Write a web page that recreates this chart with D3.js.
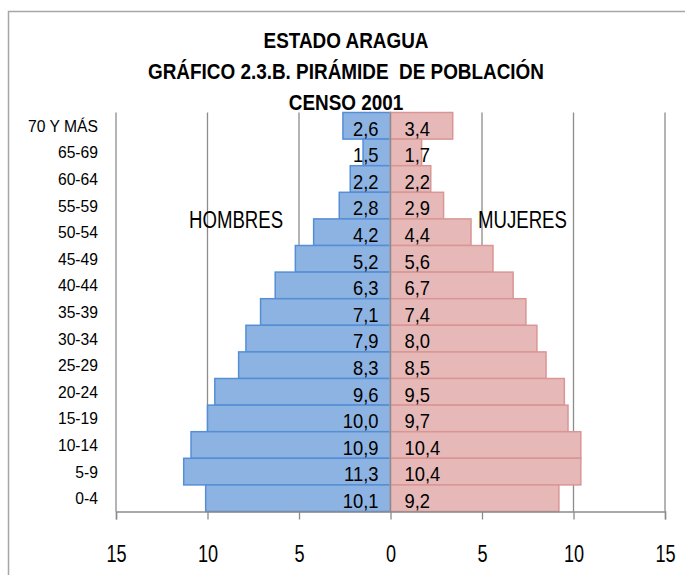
<!DOCTYPE html>
<html>
<head>
<meta charset="utf-8">
<script src="https://cdn.jsdelivr.net/npm/d3@7"></script>
<style>
  body { margin: 0; background: #fff; }
  text { font-family: "Liberation Sans", Arial, sans-serif; fill: #000; }
</style>
</head>
<body>
<div id="vis"></div>
<script>
// Frame
const FRAME_WIDTH = 685;
const FRAME_HEIGHT = 575;
const MARGINS = {left: 116, right: 20, top: 112.5, bottom: 63.5};

// Data (top to bottom as drawn)
const AGE_GROUPS = ["70 Y MÁS", "65-69", "60-64", "55-59", "50-54", "45-49", "40-44",
                    "35-39", "30-34", "25-29", "20-24", "15-19", "10-14", "5-9", "0-4"];
const HOMBRES = [2.6, 1.5, 2.2, 2.8, 4.2, 5.2, 6.3, 7.1, 7.9, 8.3, 9.6, 10.0, 10.9, 11.3, 10.1];
const MUJERES = [3.4, 1.7, 2.2, 2.9, 4.4, 5.6, 6.7, 7.4, 8.0, 8.5, 9.5, 9.7, 10.4, 10.4, 9.2];
const X_TICKS = [-15, -10, -5, 0, 5, 10, 15];
const TITLE = ["ESTADO ARAGUA", "GRÁFICO 2.3.B. PIRÁMIDE  DE POBLACIÓN", "CENSO 2001"];

const svg = d3.select("#vis")
  .append("svg")
    .attr("width", FRAME_WIDTH)
    .attr("height", FRAME_HEIGHT);

// narrow text: no condensed face is installed, so squeeze it horizontally
const squeeze = (x, y, s) => "translate(" + x + "," + y + ") scale(" + s + ",1)";

// outer chart border
svg.append("rect")
  .attr("x", 8.5).attr("y", 11.5)
  .attr("width", 720).attr("height", 620)
  .attr("fill", "none")
  .attr("stroke", "#a6a6a6")
  .attr("stroke-width", 1.5);

const X_SCALE = d3.scaleLinear()
  .domain([-15, 15])
  .range([116, 665]);

const Y_SCALE = d3.scaleBand()
  .domain(AGE_GROUPS)
  .range([MARGINS.top, FRAME_HEIGHT - MARGINS.bottom])
  .padding(0);

const fmt = v => d3.format(".1f")(v).replace(".", ",");

// vertical gridlines
svg.append("g")
  .selectAll("line")
  .data(X_TICKS.filter(d => d != 0))
  .enter()
  .append("line")
    .attr("x1", d => X_SCALE(d)).attr("x2", d => X_SCALE(d))
    .attr("y1", Y_SCALE.range()[0]).attr("y2", Y_SCALE.range()[1])
    .attr("stroke", "#8c8c8c")
    .attr("stroke-width", 1.3);

// male bars
svg.append("g")
  .selectAll("rect")
  .data(HOMBRES)
  .enter()
  .append("rect")
    .attr("x", d => X_SCALE(-d))
    .attr("y", (d, i) => Y_SCALE(AGE_GROUPS[i]))
    .attr("width", d => X_SCALE(0) - X_SCALE(-d))
    .attr("height", Y_SCALE.bandwidth())
    .attr("fill", "#8db3e2")
    .attr("stroke", "#558ed5")
    .attr("stroke-width", 1.5);

// female bars
svg.append("g")
  .selectAll("rect")
  .data(MUJERES)
  .enter()
  .append("rect")
    .attr("x", X_SCALE(0))
    .attr("y", (d, i) => Y_SCALE(AGE_GROUPS[i]))
    .attr("width", d => X_SCALE(d) - X_SCALE(0))
    .attr("height", Y_SCALE.bandwidth())
    .attr("fill", "#e6b9b8")
    .attr("stroke", "#d99694")
    .attr("stroke-width", 1.5);

// center axis line
svg.append("line")
  .attr("x1", X_SCALE(0)).attr("x2", X_SCALE(0))
  .attr("y1", Y_SCALE.range()[0]).attr("y2", Y_SCALE.range()[1])
  .attr("stroke", "#8c8c8c")
  .attr("stroke-width", 1.3);

// bottom axis
const xAxis = svg.append("g")
  .attr("transform", "translate(0," + Y_SCALE.range()[1] + ")")
  .call(d3.axisBottom(X_SCALE)
          .tickValues(X_TICKS)
          .tickSize(8)
          .tickFormat(d => Math.abs(d)));
xAxis.select(".domain").attr("stroke", "#8c8c8c").attr("stroke-width", 1.5);
xAxis.selectAll(".tick line").attr("stroke", "#8c8c8c").attr("stroke-width", 1.3);
xAxis.selectAll(".tick text")
  .attr("y", null).attr("dy", null)
  .attr("transform", squeeze(0, 50.5, 0.77))
  .attr("font-size", "23.5px")
  .style("font-family", "'Liberation Sans', Arial, sans-serif")
  .attr("fill", "#000");

// category labels
svg.append("g")
  .selectAll("text")
  .data(AGE_GROUPS)
  .enter()
  .append("text")
    .attr("transform", d => squeeze(98, Y_SCALE(d) + Y_SCALE.bandwidth() / 2 + 6, 0.95))
    .attr("text-anchor", "end")
    .attr("font-size", "16.5px")
    .text(d => d);

// data labels
svg.append("g")
  .selectAll("text")
  .data(HOMBRES)
  .enter()
  .append("text")
    .attr("transform", (d, i) => squeeze(X_SCALE(0) - 12, Y_SCALE(AGE_GROUPS[i]) + 23, 0.92))
    .attr("text-anchor", "end")
    .attr("font-size", "20px")
    .text(d => fmt(d));

svg.append("g")
  .selectAll("text")
  .data(MUJERES)
  .enter()
  .append("text")
    .attr("transform", (d, i) => squeeze(X_SCALE(0) + 14, Y_SCALE(AGE_GROUPS[i]) + 23, 0.92))
    .attr("text-anchor", "start")
    .attr("font-size", "20px")
    .text(d => fmt(d));

// series names
svg.append("text")
  .attr("transform", squeeze(189, 228, 0.76))
  .attr("font-size", "24.5px")
  .text("HOMBRES");
svg.append("text")
  .attr("transform", squeeze(478, 228, 0.76))
  .attr("font-size", "24.5px")
  .text("MUJERES");

// title
const TITLE_Y = [48, 79, 110];
svg.append("g")
  .selectAll("text")
  .data(TITLE)
  .enter()
  .append("text")
    .attr("transform", (d, i) => squeeze(346, TITLE_Y[i], 0.86))
    .attr("text-anchor", "middle")
    .attr("font-size", "22px")
    .attr("font-weight", "bold")
    .style("white-space", "pre")
    .text(d => d);
</script>
</body>
</html>
